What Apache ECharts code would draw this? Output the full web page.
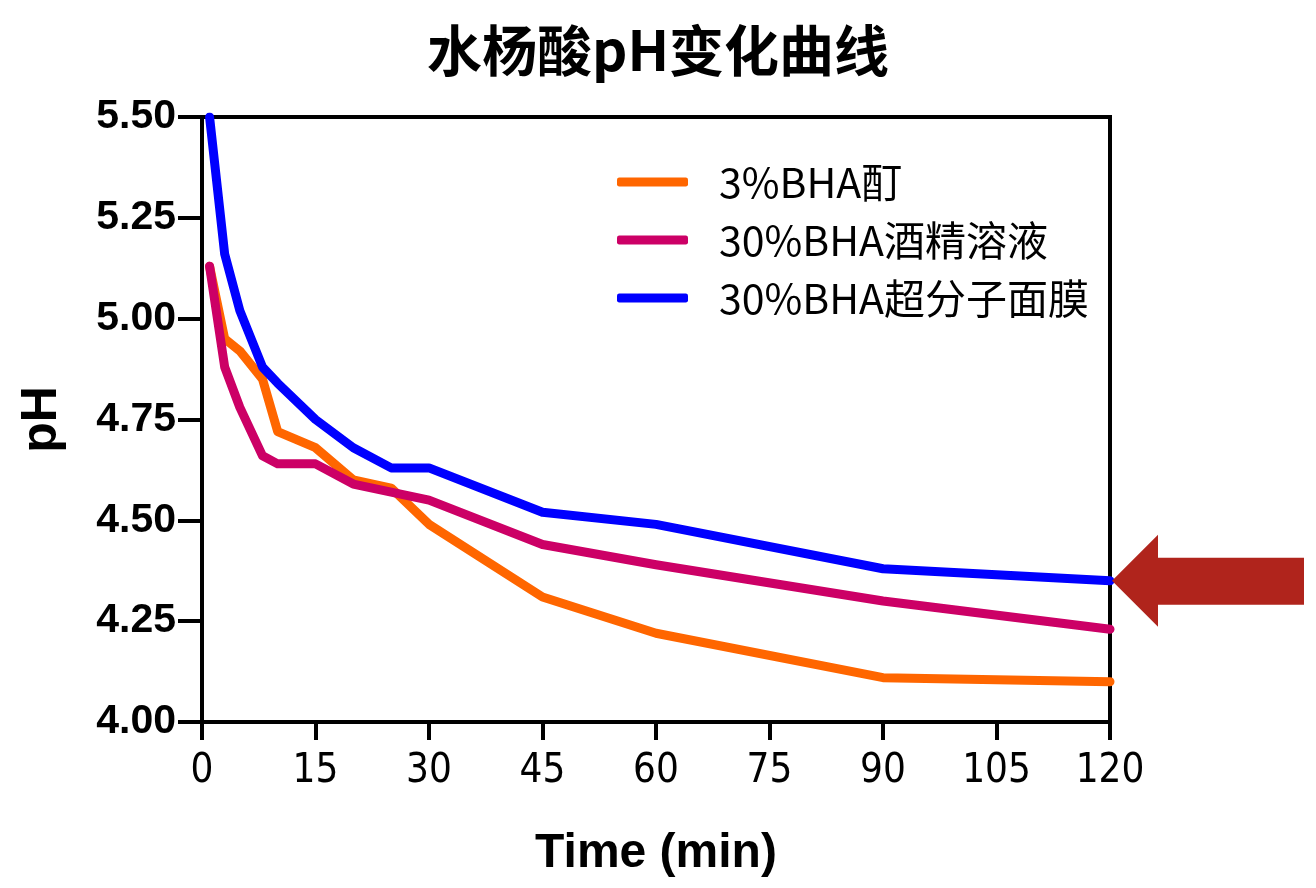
<!DOCTYPE html>
<html>
<head>
<meta charset="utf-8">
<script src="https://cdn.jsdelivr.net/npm/echarts@6/dist/echarts.min.js"></script>
<style>
	html, body { margin: 0; padding: 0; background: #fff; }
	#phChart { width: 1316px; height: 888px; }
</style>
</head>
<body>
<div id="phChart"></div>
<script>
// 측정 시간 (분)
let times = [1, 3, 5, 8, 10, 15, 20, 25, 30, 45, 60, 90, 120];

let seriesNames = ["3%BHA酊", "30%BHA酒精溶液", "30%BHA超分子面膜"];
let tinctureValues = [5.13, 4.95, 4.92, 4.85, 4.72, 4.68, 4.60, 4.58, 4.49, 4.31, 4.22, 4.11, 4.10];
let alcoholValues = [5.13, 4.88, 4.78, 4.66, 4.64, 4.64, 4.59, 4.57, 4.55, 4.44, 4.39, 4.30, 4.23];
let maskValues = [5.50, 5.16, 5.02, 4.88, 4.84, 4.75, 4.68, 4.63, 4.63, 4.52, 4.49, 4.38, 4.35];

let xTicks = [0, 15, 30, 45, 60, 75, 90, 105, 120];
let yTicks = [4.00, 4.25, 4.50, 4.75, 5.00, 5.25, 5.50];

function pairs(values) {
	return values.map(function (v, i) {
		return [times[i], v];
	});
}

function phChart() {
	let dom = document.getElementById("phChart");
	let myChart = echarts.init(dom, null, { renderer: "canvas" });

	let colors = ["#FF6600", "#CC0066", "#0000FF"];
	let valueSets = [tinctureValues, alcoholValues, maskValues];

	let series = valueSets.map(function (values, i) {
		let s = {
			name: seriesNames[i],
			type: "line",
			data: pairs(values),
			symbol: "none",
			z: 3 + (i === 1 ? 1 : 0),
			lineStyle: { width: 9, color: colors[i], cap: "round", join: "round" },
			itemStyle: { color: colors[i] },
		};
		if (i === 2) {
			// 마지막 값(120분)을 가리키는 빨간 화살표
			s.markPoint = {
				silent: true,
				symbol: "path://M0,46 L46,0 L46,23 L192,23 L192,70 L46,70 L46,92 Z",
				symbolSize: [192, 92],
				symbolKeepAspect: false,
				symbolOffset: [98, 0],
				itemStyle: { color: "#B0241C" },
				label: { show: false },
				data: [{ coord: [times[times.length - 1], values[values.length - 1]] }],
			};
		}
		return s;
	});

	let option = {
		animation: false,
		title: {
			text: "水杨酸pH变化曲线",
			left: "center",
			top: 18,
			textStyle: {
				fontFamily: "Noto Sans CJK SC",
				fontSize: 55,
				fontWeight: "bold",
				color: "#000",
			},
		},
		legend: {
			orient: "vertical",
			left: 612,
			top: 156,
			itemWidth: 71,
			itemHeight: 9,
			itemGap: 16,
			icon: "roundRect",
			data: seriesNames,
			textStyle: {
				fontFamily: "Noto Sans CJK SC",
				fontSize: 41,
				lineHeight: 42,
				color: "#000",
				padding: [0, 0, 0, 26],
			},
		},
		grid: {
			left: 202,
			right: 206,
			top: 117,
			bottom: 166,
			show: true,
			borderColor: "#000",
			borderWidth: 4,
		},
		xAxis: {
			type: "value",
			min: 0,
			max: 120,
			interval: 15,
			name: "Time (min)",
			nameLocation: "middle",
			nameGap: 108,
			nameTextStyle: {
				fontFamily: "Liberation Sans",
				fontWeight: "bold",
				fontSize: 48,
				color: "#000",
			},
			axisLine: { lineStyle: { color: "#000", width: 4 } },
			axisTick: { length: 18, lineStyle: { color: "#000", width: 4 } },
			axisLabel: {
				margin: 30,
				fontFamily: "Liberation Sans Narrow, DejaVu Sans Condensed, sans-serif",
				fontSize: 40,
				color: "#000",
				formatter: function (v) {
					return xTicks.indexOf(v) >= 0 ? String(v) : "";
				},
			},
			splitLine: { show: false },
		},
		yAxis: {
			type: "value",
			min: 4,
			max: 5.5,
			interval: 0.25,
			name: "pH",
			nameLocation: "middle",
			nameGap: 135,
			nameTextStyle: {
				fontFamily: "Liberation Sans",
				fontWeight: "bold",
				fontSize: 50,
				color: "#000",
			},
			axisLine: { lineStyle: { color: "#000", width: 4 } },
			axisTick: { length: 24, lineStyle: { color: "#000", width: 4 } },
			axisLabel: {
				margin: 26,
				fontFamily: "Liberation Sans",
				fontWeight: "bold",
				fontSize: 41,
				color: "#000",
				formatter: function (v) {
					let hit = yTicks.find(function (t) { return Math.abs(t - v) < 1e-6; });
					return hit !== undefined ? hit.toFixed(2) : "";
				},
			},
			splitLine: { show: false },
		},
		series: series,
	};

	myChart.setOption(option);
	window.addEventListener("resize", myChart.resize);
}

(function init() {
	phChart();
})();
</script>
</body>
</html>
